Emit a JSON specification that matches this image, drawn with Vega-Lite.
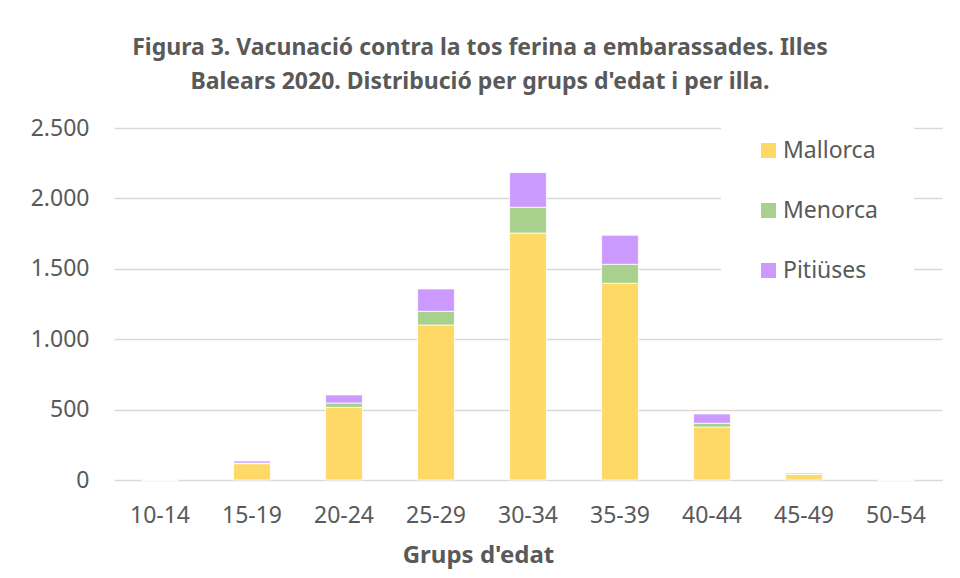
{
  "$schema": "https://vega.github.io/schema/vega-lite/v6.json",
  "autosize": "none",
  "width": 828,
  "height": 352,
  "padding": {"left": 114, "top": 128, "right": 18, "bottom": 98},
  "background": "white",
  "title": {
    "text": ["Figura 3. Vacunació contra la tos ferina a embarassades. Illes", "Balears 2020. Distribució per grups d'edat i per illa."],
    "font": "Noto Sans",
    "fontSize": 23,
    "fontWeight": "bold",
    "color": "#595959",
    "lineHeight": 34,
    "anchor": "middle",
    "dx": -48,
    "offset": 9
  },
  "data": {
    "values": [
      {"edat": "10-14", "illa": "Mallorca", "n": 0},
      {"edat": "10-14", "illa": "Menorca", "n": 0},
      {"edat": "10-14", "illa": "Pitiüses", "n": 0},
      {"edat": "15-19", "illa": "Mallorca", "n": 116},
      {"edat": "15-19", "illa": "Menorca", "n": 4},
      {"edat": "15-19", "illa": "Pitiüses", "n": 15},
      {"edat": "20-24", "illa": "Mallorca", "n": 516},
      {"edat": "20-24", "illa": "Menorca", "n": 31},
      {"edat": "20-24", "illa": "Pitiüses", "n": 57},
      {"edat": "25-29", "illa": "Mallorca", "n": 1101},
      {"edat": "25-29", "illa": "Menorca", "n": 97},
      {"edat": "25-29", "illa": "Pitiüses", "n": 159},
      {"edat": "30-34", "illa": "Mallorca", "n": 1754},
      {"edat": "30-34", "illa": "Menorca", "n": 183},
      {"edat": "30-34", "illa": "Pitiüses", "n": 246},
      {"edat": "35-39", "illa": "Mallorca", "n": 1397},
      {"edat": "35-39", "illa": "Menorca", "n": 135},
      {"edat": "35-39", "illa": "Pitiüses", "n": 206},
      {"edat": "40-44", "illa": "Mallorca", "n": 376},
      {"edat": "40-44", "illa": "Menorca", "n": 27},
      {"edat": "40-44", "illa": "Pitiüses", "n": 66},
      {"edat": "45-49", "illa": "Mallorca", "n": 40},
      {"edat": "45-49", "illa": "Menorca", "n": 3},
      {"edat": "45-49", "illa": "Pitiüses", "n": 7},
      {"edat": "50-54", "illa": "Mallorca", "n": 0},
      {"edat": "50-54", "illa": "Menorca", "n": 0},
      {"edat": "50-54", "illa": "Pitiüses", "n": 0}
    ]
  },
  "mark": {"type": "bar", "stroke": "white", "strokeWidth": 0.75},
  "encoding": {
    "x": {
      "field": "edat",
      "type": "nominal",
      "sort": ["10-14","15-19","20-24","25-29","30-34","35-39","40-44","45-49","50-54"],
      "scale": {"paddingInner": 0.6, "paddingOuter": 0.3},
      "axis": {
        "title": "Grups d'edat",
        "titleX": 364,
        "titleAnchor": "middle",
        "labelAngle": 0,
        "labelFontSize": 23,
        "labelColor": "#595959",
        "labelFont": "Noto Sans",
        "labelPadding": 24,
        "domain": false,
        "ticks": false,
        "grid": false,
        "titleFont": "Noto Sans",
        "titleFontSize": 24,
        "titleFontWeight": "bold",
        "titleColor": "#595959",
        "titlePadding": 16
      }
    },
    "y": {
      "field": "n",
      "type": "quantitative",
      "aggregate": "sum",
      "stack": "zero",
      "scale": {"domain": [0, 2500], "nice": false},
      "axis": {
        "title": null,
        "values": [0, 500, 1000, 1500, 2000, 2500],
        "labelExpr": "replace(format(datum.value, ','), ',', '.')",
        "labelFontSize": 23,
        "labelColor": "#595959",
        "labelFont": "Noto Sans",
        "labelPadding": 25,
        "domain": false,
        "ticks": false,
        "grid": true,
        "gridColor": "#D9D9D9",
        "gridWidth": 1.5
      }
    },
    "order": {"field": "illa", "type": "nominal", "sort": "ascending"},
    "color": {
      "field": "illa",
      "type": "nominal",
      "sort": ["Mallorca", "Menorca", "Pitiüses"],
      "scale": {"domain": ["Mallorca", "Menorca", "Pitiüses"], "range": ["#FFD966", "#A9D18E", "#CC99FF"]},
      "legend": {
        "title": null,
        "orient": "none",
        "legendX": 607,
        "legendY": -25,
        "fillColor": "white",
        "padding": 36,
        "symbolType": "square",
        "symbolSize": 225,
        "symbolStrokeWidth": 0,
        "labelFontSize": 23,
        "labelFont": "Noto Sans",
        "labelColor": "#595959",
        "labelOffset": 3,
        "rowPadding": 36
      }
    }
  },
  "config": {
    "view": {"stroke": null}
  }
}
